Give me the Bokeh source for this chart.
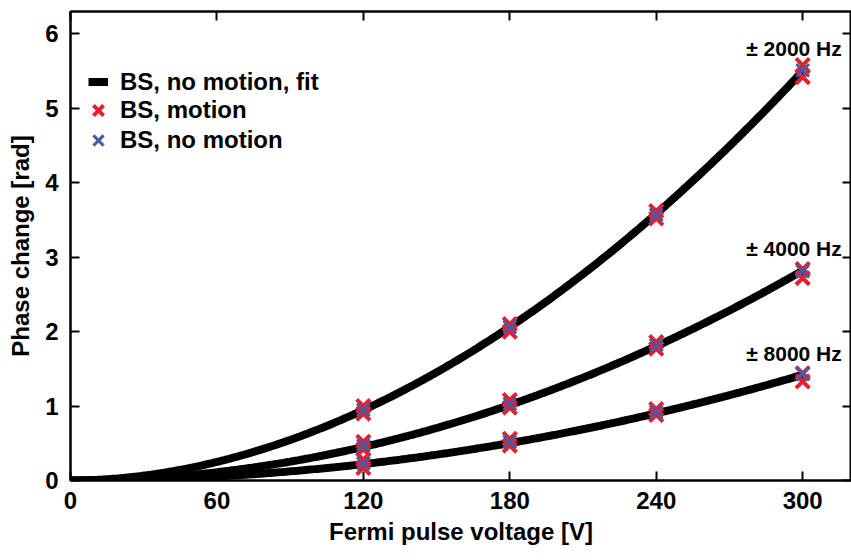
import numpy as np
from bokeh.plotting import figure
from bokeh.models import (ColumnDataSource, Range1d, FixedTicker, LinearAxis,
                          Legend, LegendItem)
from bokeh.core.properties import value
from bokeh.embed import file_html
from bokeh.resources import INLINE

# ---------------- data ----------------
voltages = [120, 180, 240, 300]
bands = ["± 2000 Hz", "± 4000 Hz", "± 8000 Hz"]

# fit parameters: phase = amp * (V/300)^expo
fit_amp = [5.50, 2.82, 1.42]
fit_expo = [1.92, 2.00, 2.03]

# BS, motion (red) - several repeats per voltage and band
motion_x = [120, 120, 120, 120, 120, 120,
            180, 180, 180, 180, 180, 180,
            240, 240, 240, 240, 240, 240,
            300, 300, 300, 300, 300, 300]
motion_y = [0.90, 1.00, 0.42, 0.52, 0.17, 0.28,
            2.00, 2.10, 0.98, 1.08, 0.47, 0.56,
            3.52, 3.62, 1.77, 1.86, 0.88, 0.96,
            5.42, 5.58, 2.72, 2.84, 1.33, 1.44]

# BS, no motion (blue)
nomotion_x = [120, 120, 120, 180, 180, 180, 240, 240, 240, 300, 300, 300]
nomotion_y = [0.95, 0.47, 0.23, 2.06, 1.03, 0.52, 3.57, 1.82, 0.92, 5.51, 2.81, 1.43]

x_ticks = [0, 60, 120, 180, 240, 300]
y_ticks = [0, 1, 2, 3, 4, 5, 6]

FONT = "Liberation Sans"
FS = "24px"

p = figure(width=851, height=560, output_backend="svg", toolbar_location=None,
           x_range=Range1d(0, 320), y_range=Range1d(0, 6.3),
           min_border_left=70, min_border_right=0, min_border_top=11,
           min_border_bottom=80)
p.grid.visible = False
p.outline_line_color = "black"
p.outline_line_width = 2
p.background_fill_color = "white"
p.border_fill_color = "white"

# fit curves
vv = np.linspace(0, 300, 301)
fit_renderers = []
for a, n in zip(fit_amp, fit_expo):
    r = p.line(vv, a * (vv / 300.0) ** n, line_color="black", line_width=8)
    fit_renderers.append(r)

src_m = ColumnDataSource(dict(x=motion_x, y=motion_y))
src_n = ColumnDataSource(dict(x=nomotion_x, y=nomotion_y))
r_m = p.scatter("x", "y", source=src_m, marker="x", size=19,
                line_color="#e5202e", line_width=4)
r_n = p.scatter("x", "y", source=src_n, marker="x", size=18,
                line_color="#4b5aa6", line_width=3)

# annotations
ann_x = [316, 316, 316]
ann_y = [5.80, 3.11, 1.70]
p.text(x=ann_x, y=ann_y, text=bands, text_align="right",
       text_baseline="alphabetic", text_font=value(FONT),
       text_font_style="bold", text_font_size="21px", text_color="black")

# axes
for ax in (p.xaxis[0], p.yaxis[0]):
    ax.major_label_text_font = FONT
    ax.major_label_text_font_style = "bold"
    ax.major_label_text_font_size = FS
    ax.major_label_text_color = "black"
    ax.axis_label_text_font = FONT
    ax.axis_label_text_font_style = "bold"
    ax.axis_label_text_font_size = FS
    ax.axis_label_text_color = "black"
    ax.major_tick_in = 9
    ax.major_tick_out = 0
    ax.minor_tick_in = 0
    ax.minor_tick_out = 0
    ax.axis_line_color = "black"
    ax.axis_line_width = 2
    ax.major_tick_line_width = 2

p.xaxis[0].ticker = FixedTicker(ticks=x_ticks)
p.yaxis[0].ticker = FixedTicker(ticks=y_ticks)
p.xaxis[0].axis_label = "Fermi pulse voltage [V]"
p.yaxis[0].axis_label = "Phase change [rad]"
p.xaxis[0].major_label_standoff = 11
p.yaxis[0].major_label_standoff = 12
p.xaxis[0].axis_label_standoff = 6
p.yaxis[0].axis_label_standoff = 8

top = LinearAxis(ticker=FixedTicker(ticks=x_ticks), major_label_text_font_size="0px",
                 major_label_standoff=0,
                 major_tick_in=9, major_tick_out=0, minor_tick_in=0, minor_tick_out=0,
                 axis_line_width=2, major_tick_line_width=2)
right = LinearAxis(ticker=FixedTicker(ticks=y_ticks), major_label_text_font_size="0px",
                   major_label_standoff=0,
                   major_tick_in=9, major_tick_out=0, minor_tick_in=0, minor_tick_out=0,
                   axis_line_width=2, major_tick_line_width=2)
top.major_label_text_color = None
right.major_label_text_color = None
p.add_layout(top, "above")
p.add_layout(right, "right")


def make_legend(label, renderer, loc, gw, gh, standoff):
    lg = Legend(items=[LegendItem(label=label, renderers=[renderer])], location=loc)
    lg.border_line_color = None
    lg.background_fill_alpha = 0
    lg.padding = 0
    lg.margin = 0
    lg.spacing = 0
    lg.glyph_width = gw
    lg.glyph_height = gh
    lg.label_height = gh
    lg.label_standoff = standoff
    lg.label_text_font = FONT
    lg.label_text_font_style = "bold"
    lg.label_text_font_size = FS
    lg.label_text_color = "black"
    p.add_layout(lg, "center")
    return lg


make_legend("BS, no motion, fit", fit_renderers[0], (18, 384), 20, 29, 12)
make_legend("BS, motion", r_m, (10, 352), 36, 36, 4)
make_legend("BS, no motion", r_n, (10, 322), 36, 36, 4)

open("out.html", "w").write(file_html(p, INLINE))
